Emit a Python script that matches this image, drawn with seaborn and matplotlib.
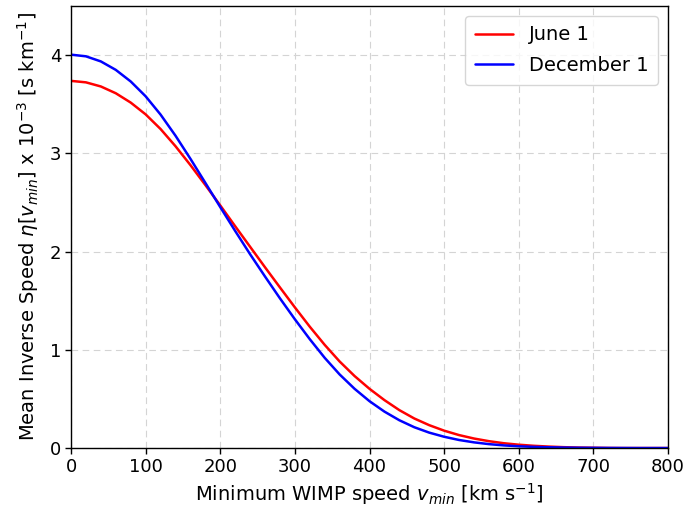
import numpy as np
import pandas as pd
import matplotlib
matplotlib.use("Agg")
import matplotlib.pyplot as plt
import seaborn as sns

# Minimum WIMP speed grid [km/s]
vmin = list(range(0, 801, 20))

# Mean inverse speed eta(vmin) x 10^-3 [s/km]
eta_june = [3.738, 3.723, 3.681, 3.612, 3.517, 3.397, 3.248, 3.073, 2.881,
            2.678, 2.470, 2.258, 2.049, 1.840, 1.635, 1.432, 1.235, 1.050,
            0.881, 0.733, 0.603, 0.488, 0.386, 0.301, 0.233, 0.177, 0.132,
            0.097, 0.070, 0.049, 0.034, 0.023, 0.015, 0.009, 0.005, 0.003,
            0.001, 0.0, 0.0, 0.0, 0.0]
eta_december = [4.005, 3.988, 3.936, 3.850, 3.732, 3.581, 3.395, 3.180,
                2.945, 2.700, 2.453, 2.210, 1.973, 1.746, 1.524, 1.311,
                1.108, 0.918, 0.749, 0.603, 0.477, 0.371, 0.283, 0.212,
                0.157, 0.115, 0.082, 0.058, 0.040, 0.027, 0.018, 0.012,
                0.008, 0.005, 0.003, 0.002, 0.001, 0.0005, 0.0, 0.0, 0.0]

series_names = ["June 1", "December 1"]
series_colors = ["red", "blue"]

df = pd.concat([
    pd.DataFrame({"vmin": vmin, "eta": eta_june, "date": series_names[0]}),
    pd.DataFrame({"vmin": vmin, "eta": eta_december, "date": series_names[1]}),
])

sns.set_style("whitegrid", {
    "grid.linestyle": (0, (6, 4)),
    "grid.color": "#d4d4d4",
    "axes.edgecolor": "black",
    "axes.labelcolor": "black",
    "text.color": "black",
    "xtick.color": "black",
    "ytick.color": "black",
    "xtick.bottom": True,
    "ytick.left": True,
})
plt.rcParams["font.family"] = ["DejaVu Sans"]

fig = plt.figure(figsize=(6.86, 5.15), dpi=100)
ax = fig.add_axes([0.1035, 0.130, 0.8703, 0.8583])

sns.lineplot(data=df, x="vmin", y="eta", hue="date",
             palette=dict(zip(series_names, series_colors)),
             linewidth=1.8, ax=ax)

ax.set_xlim(0, 800)
ax.set_ylim(0, 4.5)
ax.set_xticks(np.arange(0, 801, 100))
ax.set_yticks([0, 1, 2, 3, 4])
ax.tick_params(axis="both", labelsize=13, length=4, width=1, color="black",
               direction="out", pad=3)
for s in ax.spines.values():
    s.set_color("black")
    s.set_linewidth(1.0)

ax.set_xlabel(r"Minimum WIMP speed $v_{min}$ [km s$^{-1}$]", fontsize=14,
              labelpad=4)
ax.set_ylabel(r"Mean Inverse Speed $\eta[v_{min}]$ x $10^{-3}$ [s km$^{-1}$]",
              fontsize=14, labelpad=6)

leg = ax.legend(loc="upper right", fontsize=14, frameon=True,
                handlelength=2.0, borderpad=0.5, labelspacing=0.6)
leg.set_title(None)

fig.savefig("out.png", dpi=100)
